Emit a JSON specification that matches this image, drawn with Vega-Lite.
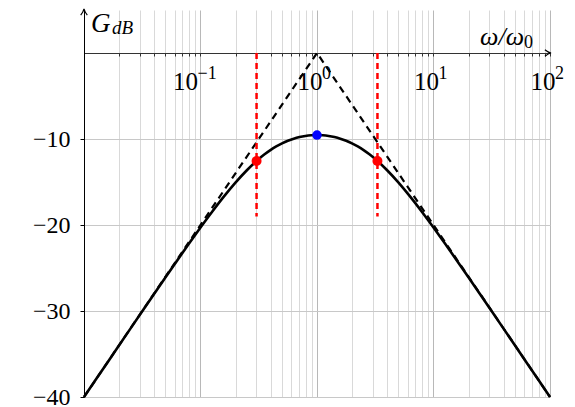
{
  "$schema": "https://vega.github.io/schema/vega-lite/v6.json",
  "width": 466,
  "height": 387,
  "autosize": {"type": "none"},
  "padding": {"left": 84, "top": 10, "right": 25, "bottom": 10},
  "background": "white",
  "config": {
    "view": {"stroke": null},
    "axis": {"labelFont": "Liberation Serif", "labelColor": "black"}
  },
  "datasets": {
    "gain": [
      {"w": 0.01, "g": -40.003},
      {"w": 0.012589, "g": -38.005},
      {"w": 0.015849, "g": -36.008},
      {"w": 0.019953, "g": -34.012},
      {"w": 0.025119, "g": -32.019},
      {"w": 0.031623, "g": -30.03},
      {"w": 0.039811, "g": -28.048},
      {"w": 0.050119, "g": -26.076},
      {"w": 0.063096, "g": -24.119},
      {"w": 0.079433, "g": -22.188},
      {"w": 0.1, "g": -20.294},
      {"w": 0.12589, "g": -18.458},
      {"w": 0.15849, "g": -16.706},
      {"w": 0.19953, "g": -15.073},
      {"w": 0.25119, "g": -13.601},
      {"w": 0.31623, "g": -12.33},
      {"w": 0.35481, "g": -11.781},
      {"w": 0.39811, "g": -11.293},
      {"w": 0.44668, "g": -10.868},
      {"w": 0.50119, "g": -10.505},
      {"w": 0.56234, "g": -10.203},
      {"w": 0.63096, "g": -9.961},
      {"w": 0.70795, "g": -9.776},
      {"w": 0.79433, "g": -9.645},
      {"w": 0.89125, "g": -9.568},
      {"w": 1, "g": -9.542},
      {"w": 1.122, "g": -9.568},
      {"w": 1.2589, "g": -9.645},
      {"w": 1.4125, "g": -9.776},
      {"w": 1.5849, "g": -9.961},
      {"w": 1.7783, "g": -10.203},
      {"w": 1.9953, "g": -10.505},
      {"w": 2.2387, "g": -10.868},
      {"w": 2.5119, "g": -11.293},
      {"w": 2.8184, "g": -11.781},
      {"w": 3.1623, "g": -12.33},
      {"w": 3.9811, "g": -13.601},
      {"w": 5.0119, "g": -15.073},
      {"w": 6.3096, "g": -16.706},
      {"w": 7.9433, "g": -18.458},
      {"w": 10, "g": -20.294},
      {"w": 12.589, "g": -22.188},
      {"w": 15.849, "g": -24.119},
      {"w": 19.953, "g": -26.076},
      {"w": 25.119, "g": -28.048},
      {"w": 31.623, "g": -30.03},
      {"w": 39.811, "g": -32.019},
      {"w": 50.119, "g": -34.012},
      {"w": 63.096, "g": -36.008},
      {"w": 79.433, "g": -38.005},
      {"w": 100, "g": -40.003}
    ],
    "asymptotes": [
      {"w": 0.01, "g": -40},
      {"w": 1, "g": 0},
      {"w": 100, "g": -40}
    ],
    "cutoffs": [
      {"w": 0.30278, "g": -12.553, "top": 0, "bottom": -19},
      {"w": 3.30278, "g": -12.553, "top": 0, "bottom": -19}
    ],
    "peak": [{"w": 1, "g": -9.542}]
  },
  "layer": [
    {
      "data": {"name": "asymptotes"},
      "mark": {"type": "line", "color": "black", "strokeWidth": 2.2, "strokeDash": [7, 5]},
      "encoding": {
        "x": {
          "field": "w", "type": "quantitative",
          "scale": {"type": "log", "domain": [0.01, 100], "nice": false},
          "axis": {
            "orient": "bottom",
            "values": [0.01, 0.02, 0.03, 0.04, 0.05, 0.06, 0.07, 0.08, 0.09, 0.1, 0.2, 0.3, 0.4, 0.5, 0.6, 0.7, 0.8, 0.9, 1, 2, 3, 4, 5, 6, 7, 8, 9, 10, 20, 30, 40, 50, 60, 70, 80, 90, 100],
            "grid": true,
            "gridColor": {
              "condition": {"test": "datum.value == 0.01 || datum.value == 0.1 || datum.value == 1 || datum.value == 10 || datum.value == 100", "value": "#b8b8b8"},
              "value": "#d9d9d9"
            },
            "gridWidth": 1,
            "labels": false, "ticks": false, "domain": false, "title": null
          }
        },
        "y": {
          "field": "g", "type": "quantitative",
          "scale": {"domain": [-40, 5], "nice": false, "zero": false},
          "axis": {
            "orient": "left",
            "values": [-10, -20, -30, -40],
            "grid": true, "gridColor": "#c8c8c8", "gridWidth": 1,
            "labels": false, "ticks": false, "domain": false, "title": null
          }
        }
      }
    },
    {
      "data": {"name": "gain"},
      "mark": {"type": "line", "color": "black", "strokeWidth": 2.6, "interpolate": "monotone"},
      "encoding": {
        "x": {
          "field": "w", "type": "quantitative",
          "scale": {"type": "log", "domain": [0.01, 100], "nice": false},
          "axis": {
            "orient": "bottom",
            "offset": -344,
            "values": [0.01, 0.02, 0.03, 0.04, 0.05, 0.06, 0.07, 0.08, 0.09, 0.1, 0.2, 0.3, 0.4, 0.5, 0.6, 0.7, 0.8, 0.9, 1, 2, 3, 4, 5, 6, 7, 8, 9, 10, 20, 30, 40, 50, 60, 70, 80, 90, 100],
            "labelExpr": "datum.value == 0.1 || datum.value == 1 || datum.value == 10 || datum.value == 100 ? '10' : ''",
            "labelAlign": "right",
            "labelOffset": {"condition": {"test": "datum.value == 0.1", "value": -3}, "value": 5},
            "labelFontSize": 25,
            "labelPadding": 13,
            "labelOverlap": false,
            "labelFlush": false,
            "grid": false,
            "domain": true, "domainColor": "#333333", "domainWidth": 1,
            "ticks": true, "tickSize": 3, "tickColor": "#333333", "tickWidth": 1,
            "title": null
          }
        },
        "y": {
          "field": "g", "type": "quantitative",
          "scale": {"domain": [-40, 5], "nice": false, "zero": false},
          "axis": {
            "orient": "left",
            "values": [-10, -20, -30, -40],
            "labelFontSize": 24,
            "labelPadding": 10,
            "grid": false,
            "domain": true, "domainColor": "black", "domainWidth": 1,
            "ticks": true, "tickSize": 4, "tickColor": "black", "tickWidth": 1,
            "title": null
          }
        }
      }
    },
    {
      "data": {"values": [{"w": 0.1, "g": 0, "exp": "−1"}]},
      "mark": {"type": "text", "font": "Liberation Serif", "fontSize": 18, "align": "left", "baseline": "alphabetic", "dx": -3, "dy": 26, "color": "black"},
      "encoding": {
        "x": {"field": "w", "type": "quantitative", "scale": {"type": "log", "domain": [0.01, 100], "nice": false}, "axis": null},
        "y": {"field": "g", "type": "quantitative", "scale": {"domain": [-40, 5], "nice": false, "zero": false}, "axis": null},
        "text": {"field": "exp"}
      }
    },
    {
      "data": {"values": [{"w": 1, "g": 0, "exp": "0"}, {"w": 10, "g": 0, "exp": "1"}, {"w": 100, "g": 0, "exp": "2"}]},
      "mark": {"type": "text", "font": "Liberation Serif", "fontSize": 18, "align": "left", "baseline": "alphabetic", "dx": 5, "dy": 26, "color": "black"},
      "encoding": {
        "x": {"field": "w", "type": "quantitative", "scale": {"type": "log", "domain": [0.01, 100], "nice": false}, "axis": null},
        "y": {"field": "g", "type": "quantitative", "scale": {"domain": [-40, 5], "nice": false, "zero": false}, "axis": null},
        "text": {"field": "exp"}
      }
    },
    {
      "data": {"name": "cutoffs"},
      "mark": {"type": "rule", "color": "#ff0000", "strokeWidth": 2.5, "strokeDash": [6, 4]},
      "encoding": {
        "x": {"field": "w", "type": "quantitative", "scale": {"type": "log", "domain": [0.01, 100], "nice": false}, "axis": null},
        "y": {"field": "top", "type": "quantitative", "scale": {"domain": [-40, 5], "nice": false, "zero": false}, "axis": null},
        "y2": {"field": "bottom"}
      }
    },
    {
      "data": {"name": "cutoffs"},
      "mark": {"type": "point", "filled": true, "color": "#ff0000", "size": 100, "opacity": 1},
      "encoding": {
        "x": {"field": "w", "type": "quantitative", "scale": {"type": "log", "domain": [0.01, 100], "nice": false}, "axis": null},
        "y": {"field": "g", "type": "quantitative", "scale": {"domain": [-40, 5], "nice": false, "zero": false}, "axis": null}
      }
    },
    {
      "data": {"name": "peak"},
      "mark": {"type": "point", "filled": true, "color": "#0000ff", "size": 90, "opacity": 1},
      "encoding": {
        "x": {"field": "w", "type": "quantitative", "scale": {"type": "log", "domain": [0.01, 100], "nice": false}, "axis": null},
        "y": {"field": "g", "type": "quantitative", "scale": {"domain": [-40, 5], "nice": false, "zero": false}, "axis": null}
      }
    },
    {
      "data": {"values": [{"w": 100, "g": 0}]},
      "mark": {"type": "point", "shape": "M -1.7 -1.1 Q -0.6 -0.2 0.35 0 Q -0.6 0.2 -1.7 1.1", "size": 36, "filled": false, "stroke": "black", "strokeWidth": 1.2, "opacity": 1},
      "encoding": {
        "x": {"field": "w", "type": "quantitative", "scale": {"type": "log", "domain": [0.01, 100], "nice": false}, "axis": null},
        "y": {"field": "g", "type": "quantitative", "scale": {"domain": [-40, 5], "nice": false, "zero": false}, "axis": null}
      }
    },
    {
      "data": {"values": [{"w": 0.01, "g": 5}]},
      "mark": {"type": "point", "shape": "M -1.7 -1.1 Q -0.6 -0.2 0.35 0 Q -0.6 0.2 -1.7 1.1", "size": 36, "angle": -90, "filled": false, "stroke": "black", "strokeWidth": 1.2, "opacity": 1},
      "encoding": {
        "x": {"field": "w", "type": "quantitative", "scale": {"type": "log", "domain": [0.01, 100], "nice": false}, "axis": null},
        "y": {"field": "g", "type": "quantitative", "scale": {"domain": [-40, 5], "nice": false, "zero": false}, "axis": null}
      }
    },
    {
      "data": {"values": [{"w": 0.01, "g": 5, "label": "G"}]},
      "mark": {"type": "text", "font": "Liberation Serif", "fontStyle": "italic", "fontSize": 27, "align": "left", "baseline": "alphabetic", "dx": 7, "dy": 22, "color": "black"},
      "encoding": {
        "x": {"field": "w", "type": "quantitative", "scale": {"type": "log", "domain": [0.01, 100], "nice": false}, "axis": null},
        "y": {"field": "g", "type": "quantitative", "scale": {"domain": [-40, 5], "nice": false, "zero": false}, "axis": null},
        "text": {"field": "label"}
      }
    },
    {
      "data": {"values": [{"w": 0.01, "g": 5, "label": "dB"}]},
      "mark": {"type": "text", "font": "Liberation Serif", "fontStyle": "italic", "fontSize": 19, "align": "left", "baseline": "alphabetic", "dx": 28, "dy": 24, "color": "black"},
      "encoding": {
        "x": {"field": "w", "type": "quantitative", "scale": {"type": "log", "domain": [0.01, 100], "nice": false}, "axis": null},
        "y": {"field": "g", "type": "quantitative", "scale": {"domain": [-40, 5], "nice": false, "zero": false}, "axis": null},
        "text": {"field": "label"}
      }
    },
    {
      "data": {"values": [{"w": 100, "g": 0, "label": "ω/ω"}]},
      "mark": {"type": "text", "font": "Liberation Serif", "fontStyle": "italic", "fontSize": 26, "align": "right", "baseline": "alphabetic", "dx": -26, "dy": -8, "color": "black"},
      "encoding": {
        "x": {"field": "w", "type": "quantitative", "scale": {"type": "log", "domain": [0.01, 100], "nice": false}, "axis": null},
        "y": {"field": "g", "type": "quantitative", "scale": {"domain": [-40, 5], "nice": false, "zero": false}, "axis": null},
        "text": {"field": "label"}
      }
    },
    {
      "data": {"values": [{"w": 100, "g": 0, "label": "0"}]},
      "mark": {"type": "text", "font": "Liberation Serif", "fontSize": 18, "align": "left", "baseline": "alphabetic", "dx": -26, "dy": -5, "color": "black"},
      "encoding": {
        "x": {"field": "w", "type": "quantitative", "scale": {"type": "log", "domain": [0.01, 100], "nice": false}, "axis": null},
        "y": {"field": "g", "type": "quantitative", "scale": {"domain": [-40, 5], "nice": false, "zero": false}, "axis": null},
        "text": {"field": "label"}
      }
    }
  ],
  "resolve": {"axis": {"x": "independent", "y": "independent"}}
}
